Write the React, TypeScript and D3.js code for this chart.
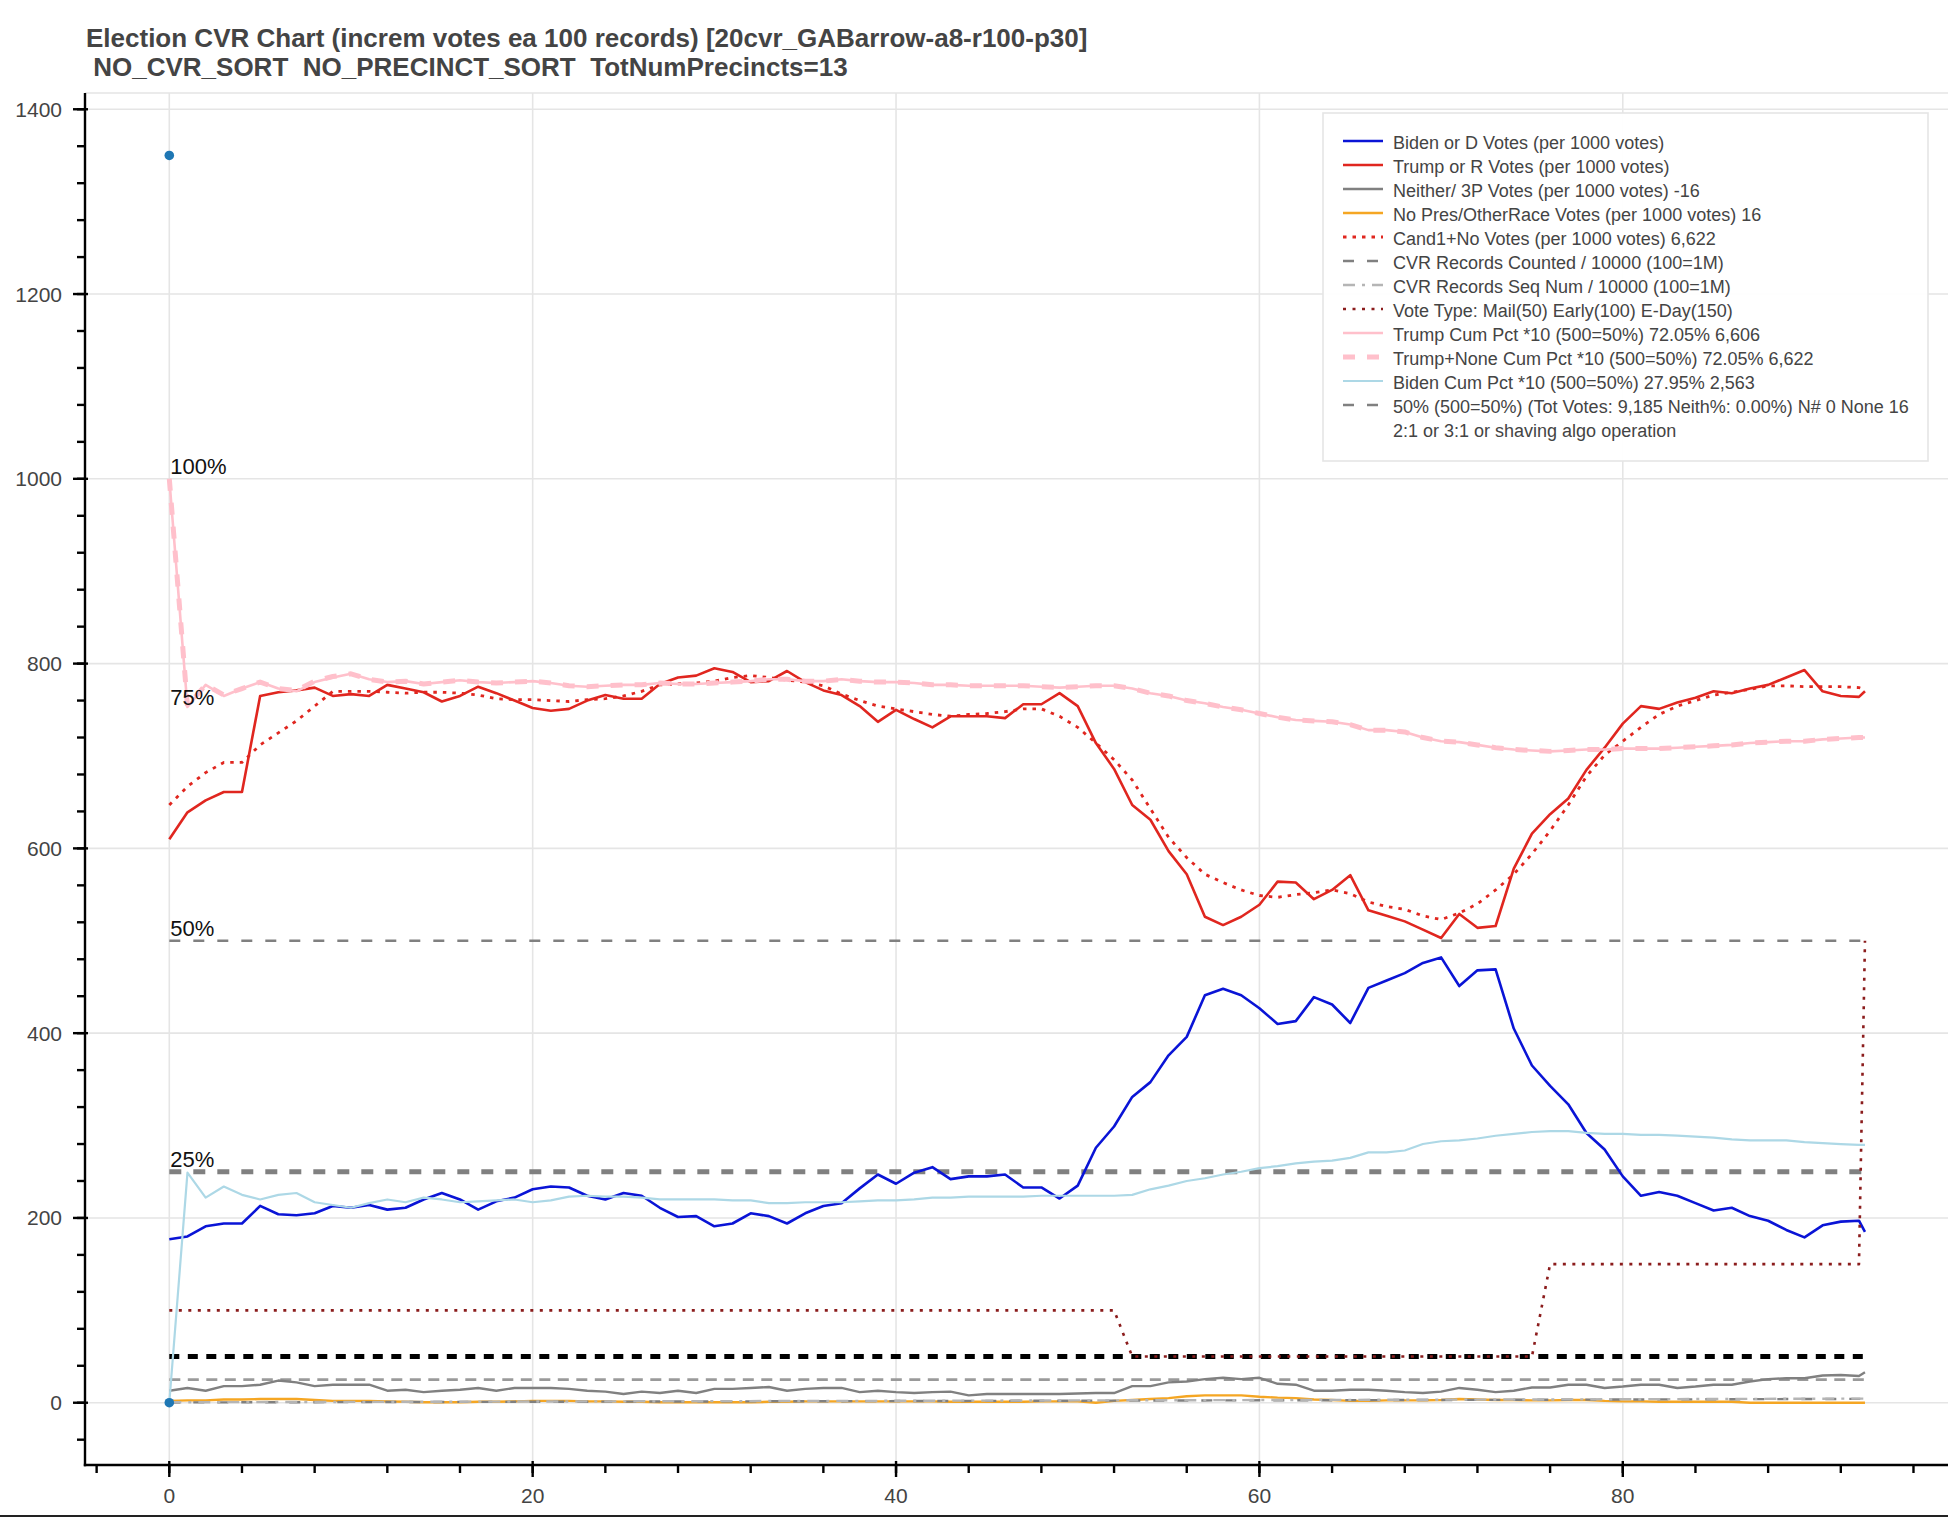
import React from "react";
import * as d3 from "d3";

// ---------- DATA ----------
const titleLine1 = "Election CVR Chart (increm votes ea 100 records) [20cvr_GABarrow-a8-r100-p30]";
const titleLine2 = " NO_CVR_SORT  NO_PRECINCT_SORT  TotNumPrecincts=13";

// batch index (100 records each) – last batch is partial
const xs: number[] = [...d3.range(94), 93.33];

const bidenVotes = [177, 180, 191, 194, 194, 213, 204, 203, 205, 213, 211, 214, 209, 211, 220, 227, 220, 209, 218, 222, 231, 234, 233, 224, 220, 227, 224, 211, 201, 202, 191, 194, 205, 202, 194, 205, 213, 216, 232, 247, 237, 249, 255, 242, 245, 245, 247, 233, 233, 221, 235, 276, 299, 331, 347, 376, 396, 441, 448, 441, 427, 410, 413, 439, 431, 411, 449, 457, 465, 476, 482, 451, 468, 469, 405, 365, 343, 323, 292, 274, 245, 224, 228, 224, 216, 208, 211, 202, 197, 187, 179, 192, 196, 197, 185];

const trumpVotes = [610, 639, 652, 661, 661, 765, 769, 771, 774, 765, 767, 765, 777, 773, 769, 759, 765, 775, 768, 760, 752, 749, 751, 760, 766, 762, 762, 778, 785, 787, 795, 791, 780, 781, 792, 780, 771, 766, 754, 737, 750, 740, 731, 743, 743, 743, 741, 756, 756, 768, 754, 714, 686, 647, 631, 597, 572, 526, 517, 526, 539, 564, 563, 545, 555, 571, 533, 527, 521, 512, 503, 529, 514, 516, 578, 616, 637, 654, 685, 709, 735, 754, 751, 758, 763, 770, 768, 773, 777, 785, 793, 770, 765, 764, 770];

const neitherVotes = [13, 16, 13, 18, 18, 19.5, 24, 22, 18, 19.5, 19.5, 19.5, 13, 14, 11.5, 13, 14, 16, 13, 16, 16, 16, 15, 13, 12, 9.5, 12, 10.5, 13, 10.5, 15, 15, 16, 17, 13, 15, 16, 16, 11.5, 13, 11.5, 10.5, 11.5, 12, 8, 9.5, 9.5, 9.5, 9.5, 9.5, 10, 10.5, 10.5, 18, 18, 22, 23, 25.5, 27, 25.5, 27, 20.5, 19.5, 13, 13, 14, 14, 13, 11.5, 10.5, 12, 16, 14, 11.5, 13, 16.5, 16.5, 19.5, 19.5, 16, 17.5, 19.5, 19.5, 16, 17.5, 19.5, 19.5, 23, 25.5, 26.5, 26.5, 29.5, 30, 29, 33];

const noPresVotes = [2, 2.5, 2.5, 3.5, 3.5, 4, 4, 4, 3, 2, 2, 2, 1.5, 1, 0.5, 0.5, 0.5, 1, 1, 1.5, 2, 2, 2, 1.5, 1.5, 1, 1, 0.5, 0.5, 0.5, 0.5, 0.5, 0.5, 1, 1, 1.5, 1.5, 1.5, 1.5, 1.5, 1.5, 1.5, 1.5, 1, 1, 1, 1, 1, 1.5, 1.5, 1.5, 0, 2, 3, 4, 5, 7, 8, 8, 8, 6.5, 5.5, 5, 3.5, 3, 2, 2, 2.5, 2.5, 2.5, 3, 4, 3.5, 3, 3, 2.5, 2.5, 3, 3, 2, 1.5, 1.5, 1, 1, 1, 1, 1, 0, 0, 0, 0, 0, 0, 0, 0];

const cand1NoVotes = [647, 667, 682, 693, 693, 712, 725, 738, 754, 770, 770, 770, 769, 768, 769, 769, 768, 766, 762, 761, 761, 760, 759, 761, 762, 765, 770, 777, 778, 779, 781, 785, 787, 785, 782, 780, 776, 767, 760, 754, 751, 748, 745, 743, 745, 746, 748, 751, 751, 743, 731, 714, 696, 674, 643, 612, 590, 572, 563, 555, 549, 547, 550, 552, 555, 551, 542, 537, 534, 527, 523, 530, 540, 555, 572, 594, 619, 647, 678, 701, 716, 731, 745, 754, 760, 766, 769, 772, 776, 776, 775, 775, 775, 774, 772];

const trumpCumPct = [1000, 753, 777, 765, 773, 780, 773, 770, 780, 785, 789, 783, 780, 781, 778, 780, 782, 780, 779, 780, 781, 779, 776, 775, 776, 777, 777, 779, 778, 778, 779, 780, 781, 783, 783, 781, 781, 783, 781, 780, 780, 779, 777, 777, 776, 776, 776, 776, 775, 774, 775, 776, 776, 773, 768, 765, 760, 757, 753, 750, 746, 742, 739, 738, 737, 734, 728, 728, 726, 720, 716, 715, 712, 709, 707, 706, 705, 706, 707, 707, 708, 708, 708, 709, 710, 711, 712, 714, 715, 716, 716, 718, 719, 720, 720];

const trumpNoneCumPct = [1000, 754, 777, 766, 773, 780, 773, 771, 781, 786, 789, 783, 780, 781, 778, 780, 782, 780, 779, 780, 781, 779, 776, 775, 776, 777, 777, 779, 778, 778, 779, 780, 781, 783, 783, 781, 781, 783, 781, 780, 780, 779, 777, 777, 776, 776, 776, 776, 775, 774, 775, 776, 776, 773, 768, 765, 760, 757, 753, 750, 746, 742, 739, 738, 737, 734, 728, 728, 726, 720, 716, 715, 712, 709, 707, 706, 705, 706, 707, 707, 708, 708, 708, 709, 710, 711, 712, 714, 715, 716, 716, 718, 719, 720, 720];

const bidenCumPct = [0, 249, 222, 234, 225, 220, 225, 227, 217, 214, 211, 216, 220, 217, 222, 220, 217, 218, 219, 220, 217, 219, 223, 224, 223, 223, 222, 220, 220, 220, 220, 219, 219, 216, 216, 217, 217, 217, 218, 219, 219, 220, 222, 222, 223, 223, 223, 223, 224, 224, 224, 224, 224, 225, 231, 235, 240, 243, 247, 250, 254, 256, 259, 261, 262, 265, 271, 271, 273, 280, 283, 284, 286, 289, 291, 293, 294, 294, 292, 291, 291, 290, 290, 289, 288, 287, 285, 284, 284, 284, 282, 281, 280, 279, 279];

// step / sparse series as [x, value] vertices
const voteTypePts: [number, number][] = [[0, 100], [52, 100], [53, 50], [75, 50], [76, 150], [93, 150], [93.33, 500]];
const cvrCountedPts: [number, number][] = [[0, 0.3], [25, 1.2], [50, 2.2], [75, 3.2], [93.33, 4.2]];
const cvrSeqNumPts: [number, number][] = [[0, 0.5], [25, 1.5], [50, 2.5], [75, 3.5], [93.33, 4.5]];
const fiftyPctPts: [number, number][] = [[0, 500], [93.33, 500]];
const quarterPts: [number, number][] = [[0, 250], [93.33, 250]];
const fiftyBlackPts: [number, number][] = [[0, 50], [93.33, 50]];
const twentyFivePts: [number, number][] = [[0, 25], [93.33, 25]];

const pctLabels: [string, number][] = [["100%", 1000], ["75%", 750], ["50%", 500], ["25%", 250]];
const markerPts: [number, number][] = [[0, 1350], [0, 0]];

const xMajorTicks = [0, 20, 40, 60, 80];
const yMajorTicks = [0, 200, 400, 600, 800, 1000, 1200, 1400];

const legendLabels = [
  "Biden or D Votes (per 1000 votes)",
  "Trump or R Votes (per 1000 votes)",
  "Neither/ 3P Votes (per 1000 votes) -16",
  "No Pres/OtherRace Votes (per 1000 votes) 16",
  "Cand1+No Votes (per 1000 votes) 6,622",
  "CVR Records Counted / 10000 (100=1M)",
  "CVR Records Seq Num / 10000 (100=1M)",
  "Vote Type: Mail(50) Early(100) E-Day(150)",
  "Trump Cum Pct *10 (500=50%) 72.05% 6,606",
  "Trump+None Cum Pct *10 (500=50%) 72.05% 6,622",
  "Biden Cum Pct *10 (500=50%) 27.95% 2,563",
  "50% (500=50%) (Tot Votes: 9,185 Neith%: 0.00%) N# 0 None 16",
  "2:1 or 3:1 or shaving algo operation",
];

// ---------- STYLES ----------
type Sty = { color: string; width: number; dash?: string; opacity?: number };
const styles: Sty[] = [
  { color: "#0a14d6", width: 2.6 },
  { color: "#e0261f", width: 2.6 },
  { color: "#808080", width: 2.4 },
  { color: "#f5a623", width: 2.4 },
  { color: "#e0261f", width: 2.8, dash: "3.5 6" },
  { color: "#808080", width: 2.4, dash: "11 13" },
  { color: "#b5b5b5", width: 2.4, dash: "12 7 3 7" },
  { color: "#8b1c1c", width: 2.6, dash: "3 6.5" },
  { color: "#ffc0cb", width: 2.6 },
  { color: "#ffc0cb", width: 5, dash: "12 12" },
  { color: "#add8e6", width: 2.2 },
  { color: "#808080", width: 2.4, dash: "11 13" },
];

const W = 1948;
const H = 1517;
const left = 85;
const right = 1948;
const top = 93;
const bottom = 1465;
const FONT = "'Liberation Sans', Arial, Helvetica, sans-serif";

export default function App() {
  const x = d3.scaleLinear().domain([-4.64, 97.9]).range([left, right]);
  const y = d3.scaleLinear().domain([-67.4, 1417.6]).range([bottom, top]);

  const lineXY = d3.line<[number, number]>().x((d) => x(d[0])).y((d) => y(d[1]));
  const zipped = (vals: number[]) => vals.map((v, i) => [xs[i], v] as [number, number]);

  const xMinor = d3.range(-4, 98, 4).filter((t) => x(t) >= left && x(t) <= right);
  const yMinor = d3.range(-40, 1420, 40).filter((t) => y(t) <= bottom && y(t) >= top);

  const seriesPaths: { pts: [number, number][]; sty: Sty }[] = [
    { pts: zipped(bidenVotes), sty: styles[0] },
    { pts: zipped(trumpVotes), sty: styles[1] },
    { pts: zipped(neitherVotes), sty: styles[2] },
    { pts: zipped(noPresVotes), sty: styles[3] },
    { pts: zipped(cand1NoVotes), sty: styles[4] },
    { pts: cvrCountedPts, sty: styles[5] },
    { pts: cvrSeqNumPts, sty: styles[6] },
    { pts: voteTypePts, sty: styles[7] },
    { pts: zipped(trumpCumPct), sty: styles[8] },
    { pts: zipped(trumpNoneCumPct), sty: styles[9] },
    { pts: zipped(bidenCumPct), sty: styles[10] },
    { pts: fiftyPctPts, sty: styles[11] },
  ];

  const extraLines: { pts: [number, number][]; sty: Sty }[] = [
    { pts: quarterPts, sty: { color: "#808080", width: 5, dash: "12 12" } },
    { pts: fiftyBlackPts, sty: { color: "#000000", width: 5, dash: "10 8.5" } },
    { pts: twentyFivePts, sty: { color: "#9a9a9a", width: 2.6, dash: "11 7.5" } },
  ];

  const lgX = 1323, lgY = 113, lgW = 605, lgH = 348;
  const rowY0 = 142, rowStep = 24;

  return (
    <svg
      width={W}
      height={H}
      viewBox={`0 0 ${W} ${H}`}
      style={{ position: "absolute", left: 0, top: 0, background: "#fff", fontFamily: FONT }}
    >
      <rect x={0} y={0} width={W} height={H} fill="#fff" />
      <defs>
        <clipPath id="plotclip">
          <rect x={left} y={top} width={right - left} height={bottom - top} />
        </clipPath>
      </defs>

      {/* title */}
      <text x={86} y={46.5} fontSize={26} fontWeight="bold" fill="#444" style={{ whiteSpace: "pre" }}>
        {titleLine1}
      </text>
      <text x={86} y={76} fontSize={26} fontWeight="bold" fill="#444" style={{ whiteSpace: "pre" }} xmlSpace="preserve">
        {titleLine2}
      </text>

      {/* grid */}
      <g stroke="#e5e5e5" strokeWidth={1.6}>
        {xMajorTicks.map((t) => (
          <line key={"gx" + t} x1={x(t)} x2={x(t)} y1={top} y2={bottom} />
        ))}
        {yMajorTicks.map((t) => (
          <line key={"gy" + t} x1={left} x2={right} y1={y(t)} y2={y(t)} />
        ))}
        <line x1={left} x2={right} y1={top} y2={top} />
      </g>

      {/* series */}
      <g clipPath="url(#plotclip)" fill="none" strokeLinejoin="round">
        {extraLines.map((s, i) => (
          <path
            key={"ex" + i}
            d={lineXY(s.pts) || ""}
            stroke={s.sty.color}
            strokeWidth={s.sty.width}
            strokeDasharray={s.sty.dash}
          />
        ))}
        {seriesPaths.map((s, i) => (
          <path
            key={"s" + i}
            d={lineXY(s.pts) || ""}
            stroke={s.sty.color}
            strokeWidth={s.sty.width}
            strokeDasharray={s.sty.dash}
          />
        ))}
        {markerPts.map((p, i) => (
          <circle key={"m" + i} cx={x(p[0])} cy={y(p[1])} r={4.8} fill="#1f77b4" />
        ))}
      </g>

      {/* percentage labels */}
      {pctLabels.map(([lab, v]) => (
        <text key={lab} x={x(0) + 1} y={y(v) - 5} fontSize={22} fill="#111">
          {lab}
        </text>
      ))}

      {/* y axis */}
      <g stroke="#000" strokeWidth={2.4}>
        <line x1={left} x2={left} y1={top} y2={bottom + 1.2} />
        {yMajorTicks.map((t) => (
          <line key={"yt" + t} x1={left - 12} x2={left + 3} y1={y(t)} y2={y(t)} />
        ))}
        {yMinor.map((t) => (
          <line key={"ym" + t} x1={left - 8} x2={left} y1={y(t)} y2={y(t)} />
        ))}
      </g>
      {yMajorTicks.map((t) => (
        <text key={"yl" + t} x={62} y={y(t) + 7.5} fontSize={21} fill="#444" textAnchor="end">
          {t}
        </text>
      ))}

      {/* x axis */}
      <g stroke="#000" strokeWidth={2.4}>
        <line x1={left - 1.2} x2={right} y1={bottom} y2={bottom} />
        {xMajorTicks.map((t) => (
          <line key={"xt" + t} x1={x(t)} x2={x(t)} y1={bottom - 4} y2={bottom + 12} />
        ))}
        {xMinor.map((t) => (
          <line key={"xm" + t} x1={x(t)} x2={x(t)} y1={bottom} y2={bottom + 8} />
        ))}
      </g>
      {xMajorTicks.map((t) => (
        <text key={"xl" + t} x={x(t)} y={1503} fontSize={21} fill="#444" textAnchor="middle">
          {t}
        </text>
      ))}

      {/* legend */}
      <g>
        <rect x={lgX} y={lgY} width={lgW} height={lgH} fill="#fff" fillOpacity={0.95} stroke="#e5e5e5" strokeWidth={1.6} />
        {legendLabels.map((lab, i) => {
          const ry = rowY0 + i * rowStep;
          const s = styles[i];
          return (
            <g key={"lg" + i}>
              {s && (
                <line
                  x1={1343}
                  x2={1383}
                  y1={ry - 1}
                  y2={ry - 1}
                  stroke={s.color}
                  strokeWidth={s.width}
                  strokeDasharray={s.dash}
                />
              )}
              <text x={1393} y={ry + 6.5} fontSize={18} fill="#444">
                {lab}
              </text>
            </g>
          );
        })}
      </g>

      {/* bottom border of screenshot */}
      <rect x={0} y={1515} width={W} height={2} fill="#222" />
    </svg>
  );
}
